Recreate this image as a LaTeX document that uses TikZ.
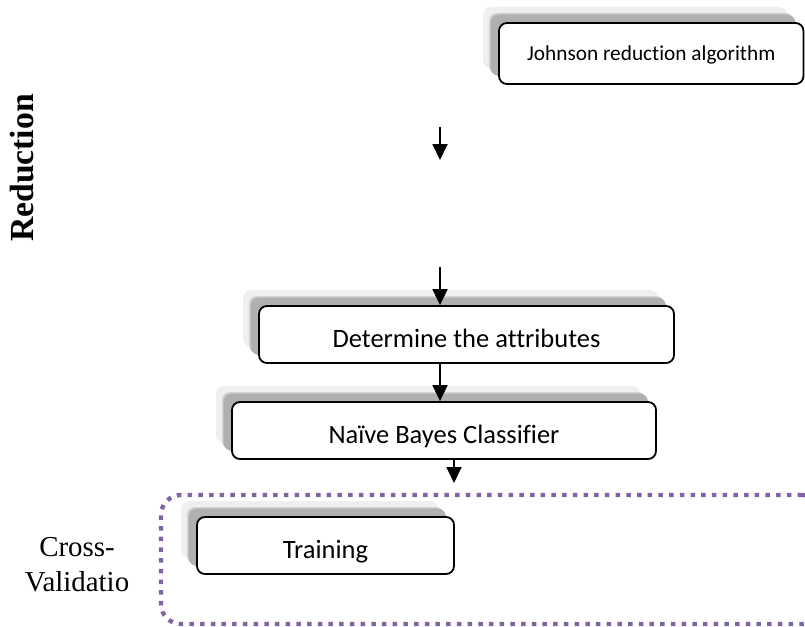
\documentclass[tikz,border=0pt]{standalone}
\usepackage{fontspec}
\setmainfont{Liberation Serif}
\newfontfamily\boxfont[Ligatures=NoCommon]{Carlito}
\usetikzlibrary{arrows.meta,shadows}
\definecolor{cvpurple}{HTML}{8064A2}
\definecolor{shlight}{HTML}{EFEFEF}
\definecolor{shmida}{HTML}{D4D4D4}
\definecolor{shmidb}{HTML}{C2C2C2}
\definecolor{shdark}{HTML}{B0B0B0}
\tikzset{
  flowbox/.style={draw=black, line width=1.8pt, rounded corners=8pt, fill=white,
    inner sep=0pt, anchor=center, text depth=0pt,
    general shadow={fill=shlight, shadow xshift=-16pt, shadow yshift=16pt},
    general shadow={fill=shmida, shadow xshift=-10pt, shadow yshift=10pt},
    general shadow={fill=shmidb, shadow xshift=-9pt, shadow yshift=9pt},
    general shadow={fill=shdark, shadow xshift=-8pt, shadow yshift=8pt}},
  boxtext/.style={font=\boxfont\fontsize{26.5}{30}\selectfont, text height=25pt},
  smalltext/.style={font=\boxfont\fontsize{21.3}{25}\selectfont, text height=13.7pt},
  arr/.style={-{Triangle[width=15pt,length=16pt]}, line width=1.8pt, draw=black},
  cvframe/.style={draw=cvpurple, line width=4.3pt, dash pattern=on 4.5pt off 6.2pt,
    rounded corners=20pt, inner sep=0pt},
  sidelabel/.style={font=\fontsize{28.9}{35}\selectfont, align=center},
}
\begin{document}
\begin{tikzpicture}[x=1pt,y=-1pt]
\useasboundingbox (0,0) rectangle (805,626);
% nodes
\node[flowbox, smalltext, minimum width=304.5pt, minimum height=61pt] (jra) at (651.25,53.5) {Johnson reduction algorithm};
\node[flowbox, boxtext, minimum width=415pt, minimum height=57pt] (det) at (466.5,334.5) {Determine the attributes};
\node[flowbox, boxtext, minimum width=424pt, minimum height=57pt] (nbc) at (444,430.5) {Naïve Bayes Classifier};
\node[cvframe, minimum width=661pt, minimum height=129pt] (cv) at (491.5,559.5) {};
\node[flowbox, boxtext, minimum width=257pt, minimum height=57pt] (trn) at (325.5,545.5) {Training};
% side labels
\node[rotate=90, font=\bfseries\fontsize{33.7}{40}\selectfont] (red) at (22,168) {Reduction};
\node[sidelabel] (cvl) at (77,565) {Cross-\\Validatio};
% connectors
\coordinate (a1s) at (440,127);
\coordinate (a1e) at (440,160);
\coordinate (a2s) at (440,267);
\coordinate (a4e) at (454,483);
\draw[arr] (a1s) -- (a1e);
\draw[arr] (a2s) -- (a2s |- det.north);
\draw[arr] (a2s |- det.south) -- (a2s |- nbc.north);
\draw[arr] (a4e |- nbc.south) -- (a4e);
\end{tikzpicture}
\end{document}
